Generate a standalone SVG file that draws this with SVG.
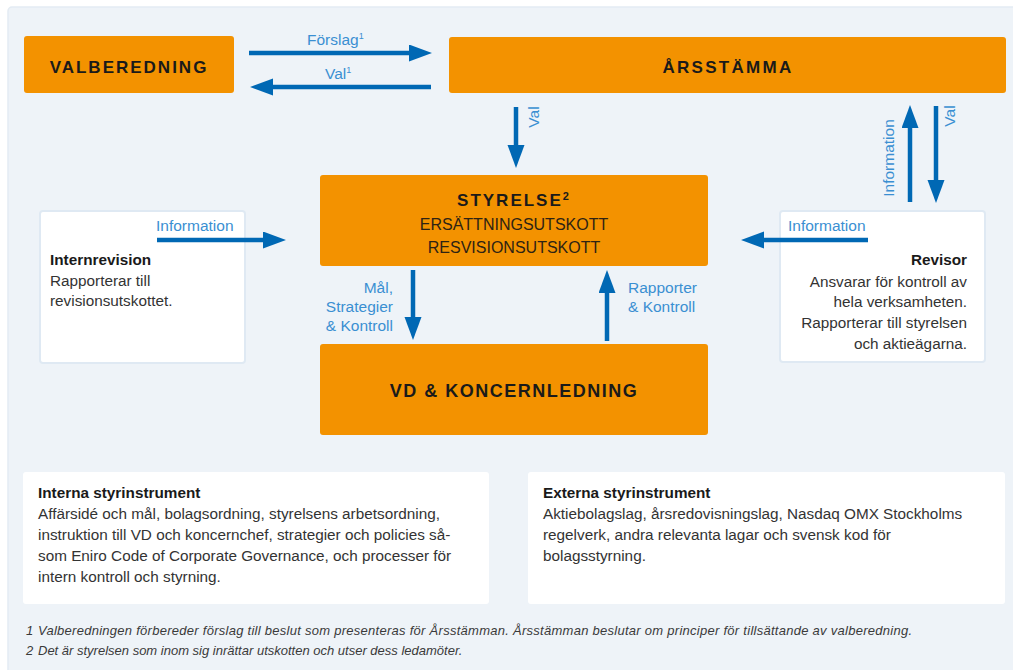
<svg xmlns="http://www.w3.org/2000/svg" width="1013" height="670" viewBox="0 0 1013 670">
<defs>
<marker id="ah" markerUnits="userSpaceOnUse" markerWidth="24" markerHeight="18" refX="3" refY="8.5" orient="auto">
<path d="M0,0 L23,8.5 L0,17 z" fill="#0068b4"/>
</marker>
<style>
.org{fill:#f39200;}
.wht{fill:#ffffff;}
.wb{fill:#ffffff;stroke:#dfe9f3;stroke-width:2;}
.h{font-family:"Liberation Sans",Arial,sans-serif;font-weight:bold;fill:#1a1a1a;}
.sub{font-family:"Liberation Sans",Arial,sans-serif;font-size:16px;fill:#2e2314;}
.lbl{font-family:"Liberation Sans",Arial,sans-serif;font-size:15.5px;fill:#3a8fd2;}
.bt{font-family:"Liberation Sans",Arial,sans-serif;font-size:15.3px;fill:#333333;}
.bh{font-family:"Liberation Sans",Arial,sans-serif;font-size:15.3px;font-weight:bold;fill:#1a1a1a;}
.fn{font-family:"Liberation Sans",Arial,sans-serif;font-size:13px;font-style:italic;fill:#3a3a3a;}
.arr{stroke:#0068b4;stroke-width:4.5;fill:none;marker-end:url(#ah);}
</style>
</defs>
<rect x="0" y="0" width="1013" height="670" fill="#ffffff"/>
<rect x="8" y="7" width="1020" height="680" rx="4" fill="#eef3f8" stroke="#e3ebf3" stroke-width="1.5"/>

<g id="valberedning">
<rect class="org" x="24" y="36" width="210" height="57" rx="3"/>
<text class="h" x="129" y="73" font-size="17" letter-spacing="2" text-anchor="middle">VALBEREDNING</text>
</g>

<g id="arsstamma">
<rect class="org" x="449" y="37" width="557" height="56" rx="3"/>
<text class="h" x="728" y="73" font-size="17" letter-spacing="2.3" text-anchor="middle">ÅRSSTÄMMA</text>
</g>

<g id="styrelse">
<rect class="org" x="320" y="175" width="388" height="91" rx="3"/>
<text class="h" x="514" y="206" font-size="17" letter-spacing="2" text-anchor="middle">STYRELSE<tspan font-size="11" dy="-6">2</tspan></text>
<text class="sub" x="514" y="230" text-anchor="middle">ERSÄTTNINGSUTSKOTT</text>
<text class="sub" x="514" y="253" text-anchor="middle">RESVISIONSUTSKOTT</text>
</g>

<g id="vd">
<rect class="org" x="320" y="344" width="388" height="91" rx="3"/>
<text class="h" x="514" y="397" font-size="18" letter-spacing="1.5" text-anchor="middle">VD &amp; KONCERNLEDNING</text>
</g>

<g id="internrevision">
<rect class="wb" x="40" y="211" width="205" height="152" rx="3"/>
<text class="bh" x="50" y="265">Internrevision</text>
<text class="bt" x="50" y="286">Rapporterar till</text>
<text class="bt" x="50" y="306">revisionsutskottet.</text>
</g>

<g id="revisor">
<rect class="wb" x="780" y="211" width="205" height="151" rx="3"/>
<text class="bh" x="967" y="265" text-anchor="end">Revisor</text>
<text class="bt" x="967" y="287" text-anchor="end">Ansvarar för kontroll av</text>
<text class="bt" x="967" y="307" text-anchor="end">hela verksamheten.</text>
<text class="bt" x="967" y="328" text-anchor="end">Rapporterar till styrelsen</text>
<text class="bt" x="967" y="349" text-anchor="end">och aktieägarna.</text>
</g>

<g id="interna">
<rect class="wht" x="23" y="472" width="466" height="132" rx="3"/>
<text class="bh" x="38" y="498">Interna styrinstrument</text>
<text class="bt" x="38" y="519">Affärsidé och mål, bolagsordning, styrelsens arbetsordning,</text>
<text class="bt" x="38" y="540">instruktion till VD och koncernchef, strategier och policies så-</text>
<text class="bt" x="38" y="561">som Eniro Code of Corporate Governance, och processer för</text>
<text class="bt" x="38" y="582">intern kontroll och styrning.</text>
</g>

<g id="externa">
<rect class="wht" x="528" y="472" width="477" height="132" rx="3"/>
<text class="bh" x="543" y="498">Externa styrinstrument</text>
<text class="bt" x="543" y="519">Aktiebolagslag, årsredovisningslag, Nasdaq OMX Stockholms</text>
<text class="bt" x="543" y="540">regelverk, andra relevanta lagar och svensk kod för</text>
<text class="bt" x="543" y="561">bolagsstyrning.</text>
</g>

<g id="connectors">
<path class="arr" d="M249,53 H412"/>
<path class="arr" d="M431,87 H270"/>
<path class="arr" d="M516,107 V148"/>
<path class="arr" d="M413,270 V320"/>
<path class="arr" d="M607,341 V290"/>
<path class="arr" d="M157,240 H266"/>
<path class="arr" d="M868,240 H761"/>
<path class="arr" d="M910,202 V125"/>
<path class="arr" d="M936,106 V183"/>
</g>

<g id="labels">
<text class="lbl" x="307" y="45">Förslag<tspan font-size="9" dy="-6">1</tspan></text>
<text class="lbl" x="325" y="79">Val<tspan font-size="9" dy="-6">1</tspan></text>
<text class="lbl" transform="translate(539,117) rotate(-90)" text-anchor="middle">Val</text>
<text class="lbl" transform="translate(894,158) rotate(-90)" text-anchor="middle">Information</text>
<text class="lbl" transform="translate(955,116) rotate(-90)" text-anchor="middle">Val</text>
<text class="lbl" x="156" y="231">Information</text>
<text class="lbl" x="788" y="231">Information</text>
<text class="lbl" x="393" y="293" text-anchor="end">Mål,</text>
<text class="lbl" x="393" y="312" text-anchor="end">Strategier</text>
<text class="lbl" x="393" y="331" text-anchor="end">&amp; Kontroll</text>
<text class="lbl" x="628" y="293">Rapporter</text>
<text class="lbl" x="628" y="312">&amp; Kontroll</text>
</g>

<g id="footnotes">
<text class="fn" x="26" y="635">1</text>
<text class="fn" x="38" y="635" textLength="874" lengthAdjust="spacing">Valberedningen förbereder förslag till beslut som presenteras för Årsstämman. Årsstämman beslutar om principer för tillsättande av valberedning.</text>
<text class="fn" x="26" y="655">2</text>
<text class="fn" x="38" y="655">Det är styrelsen som inom sig inrättar utskotten och utser dess ledamöter.</text>
</g>
</svg>
